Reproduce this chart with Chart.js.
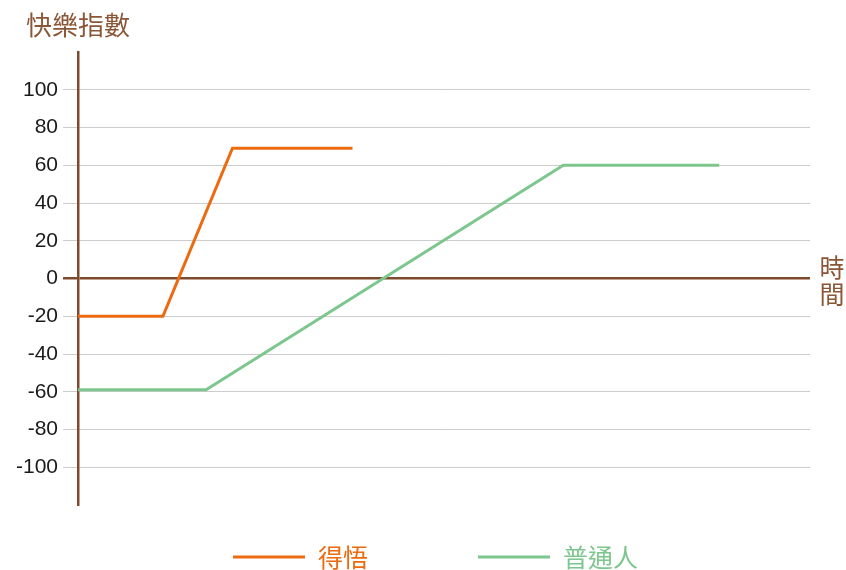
<!DOCTYPE html>
<html>
<head>
<meta charset="utf-8">
<style>
  html, body { margin: 0; padding: 0; background: #fff; }
  #wrap { width: 846px; height: 570px; }
</style>
<script src="https://cdn.jsdelivr.net/npm/chart.js@4/dist/chart.umd.min.js"></script>
</head>
<body>
<div id="wrap"><canvas id="happyChart" width="846" height="570"></canvas></div>
<script>
// Data
const seriesNames = ['得悟', '普通人'];
const seriesColors = ['#ec6a10', '#7dc68e'];
const awakenedX = [0, 11.6, 21.1, 37.5];
const awakenedY = [-20, -20, 69, 69];
const ordinaryX = [0, 17.5, 66.3, 87.6];
const ordinaryY = [-59, -59, 60, 60];
const yTicks = [-100, -80, -60, -40, -20, 0, 20, 40, 60, 80, 100];
const yTitle = '快樂指數';
const xTitle = '時間';

const BROWN = '#7e4a2c';
const TITLE_COLOR = '#8a5636';
const CJK = '"Noto Sans CJK TC", "Noto Sans", sans-serif';

function toPoints(xs, ys) {
  return xs.map((x, i) => ({ x: x, y: ys[i] }));
}

// Titles and legend drawn on the canvas
const decorPlugin = {
  id: 'decor',
  afterDraw(chart) {
    const ctx = chart.ctx;
    ctx.save();
    ctx.font = '26px ' + CJK;
    ctx.fillStyle = TITLE_COLOR;
    ctx.textBaseline = 'middle';
    ctx.textAlign = 'left';
    ctx.fillText(yTitle, 26, 25);

    // vertical x title
    ctx.font = '25px ' + CJK;
    ctx.textAlign = 'center';
    const chars = Array.from(xTitle);
    chars.forEach((ch, i) => ctx.fillText(ch, 832, 267 + i * 27));

    // legend
    const starts = [233, 478];
    chart.data.datasets.forEach((ds, i) => {
      const x0 = starts[i];
      ctx.strokeStyle = ds.borderColor;
      ctx.lineWidth = 3;
      ctx.beginPath();
      ctx.moveTo(x0, 557);
      ctx.lineTo(x0 + 72, 557);
      ctx.stroke();
      ctx.fillStyle = ds.borderColor;
      ctx.textAlign = 'left';
      ctx.fillText(ds.label, x0 + 85, 557);
    });
    ctx.restore();
  }
};

const ctx = document.getElementById('happyChart').getContext('2d');

const happyChart = new Chart(ctx, {
  type: 'line',
  data: {
    datasets: [{
      label: seriesNames[0],
      data: toPoints(awakenedX, awakenedY),
      borderColor: seriesColors[0],
      borderWidth: 3,
      pointRadius: 0,
      tension: 0,
      fill: false
    }, {
      label: seriesNames[1],
      data: toPoints(ordinaryX, ordinaryY),
      borderColor: seriesColors[1],
      borderWidth: 3,
      pointRadius: 0,
      tension: 0,
      fill: false
    }]
  },
  options: {
    responsive: false,
    animation: false,
    layout: {
      padding: { top: 52, right: 36, bottom: 65, left: 0 }
    },
    scales: {
      x: {
        type: 'linear',
        min: 0,
        max: 100,
        display: false
      },
      y: {
        min: -120,
        max: 120,
        afterFit: function (scale) {
          scale.width = 78;
        },
        afterBuildTicks: function (scale) {
          scale.ticks = yTicks.map(v => ({ value: v }));
        },
        ticks: {
          color: '#1a1a1a',
          padding: 5,
          font: { family: '"Liberation Sans", Arial, sans-serif', size: 21 }
        },
        grid: {
          tickLength: 15,
          color: function (c) {
            return c.tick && c.tick.value === 0 ? BROWN : '#cccccc';
          },
          lineWidth: function (c) {
            return c.tick && c.tick.value === 0 ? 2.5 : 1;
          }
        },
        border: {
          color: BROWN,
          width: 2.5
        }
      }
    },
    plugins: {
      legend: { display: false },
      tooltip: { enabled: false }
    }
  },
  plugins: [decorPlugin]
});
</script>
</body>
</html>
